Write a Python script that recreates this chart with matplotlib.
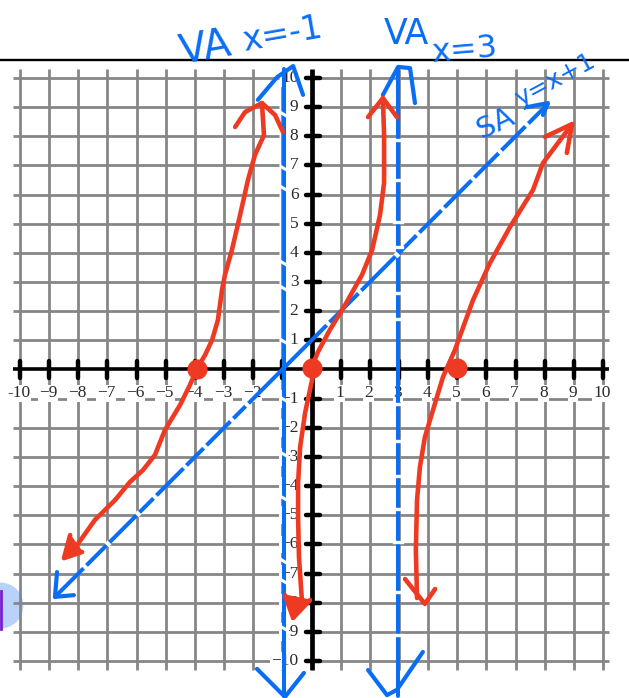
import numpy as np
import matplotlib
matplotlib.use("Agg")
import matplotlib.pyplot as plt

GRID = "#868686"
BLUE = "#0a6ef5"
RED = "#ee3a22"

x_ticks = [t for t in range(-10, 11) if t not in (-1, 0)]
y_ticks = [t for t in range(-10, 11) if t != 0]
tick_marks = [t for t in range(-10, 11) if t != 0]
grid_x = [t for t in range(-10, 11) if t != 0]
grid_y = [t for t in range(-10, 11) if t != 0]

# hand drawn curves, in graph units
red1_x = [-1.70, -1.63, -1.94, -2.18, -2.45, -2.73, -2.97, -3.07, -3.21, -3.41, -3.65, -3.93,
          -4.17, -4.51, -5.03, -5.37, -5.78, -6.23, -6.74, -7.43, -8.28]
red1_y = [9.14, 8.04, 7.36, 6.50, 5.30, 4.10, 3.24, 2.73, 1.70, 1.01, 0.50, 0.02,
          -0.53, -1.22, -2.08, -2.93, -3.45, -3.86, -4.48, -5.16, -6.36]
red2_x = [2.45, 2.49, 2.49, 2.35, 2.08, 1.73, 1.15, 0.63, 0.22, 0.02, 0.02,
          -0.22, -0.39, -0.46, -0.46, -0.43, -0.33, -0.63]
red2_y = [9.31, 8.04, 6.40, 5.30, 4.10, 3.24, 2.21, 1.36, 0.60, 0.09, -0.36,
          -1.49, -2.66, -3.89, -5.06, -6.43, -7.91, -8.52]
red3_x = [8.94, 7.94, 7.60, 6.81, 6.12, 5.54, 4.92, 4.51, 4.24, 3.89, 3.72, 3.62, 3.58, 3.62]
red3_y = [8.42, 7.08, 6.16, 4.89, 3.65, 2.38, 0.67, -0.26, -1.15, -2.32, -3.34, -4.48, -6.19, -7.84]

red_heads = [
    ([-2.62, -2.28, -1.70, -1.25, -0.98], [8.32, 8.83, 9.14, 8.73, 8.15]),
    ([-8.28, -8.49, -7.87], [-5.68, -6.47, -6.26]),
    ([1.94, 2.45, 2.93], [8.66, 9.31, 8.66]),
    ([-0.91, -0.63, -0.05], [-7.74, -8.52, -7.91]),
    ([8.01, 8.94, 8.76], [7.98, 8.42, 7.43]),
    ([3.21, 3.89, 4.24], [-7.19, -8.04, -7.53]),
]
filled_heads = [1, 3]

roots_x = [-3.92, 0.02, 5.0]
roots_y = [0.03, 0.05, 0.05]

va1_x = [-0.93, -0.93]
va1_y = [10.3, -11.2]
va2_x = [2.97, 2.97]
va2_y = [10.3, -11.2]
sa_x = [-8.8, 8.1]
sa_y = [-7.8, 9.1]

blue_heads = [
    ([-1.84, -1.18, -0.63, -0.29], [9.25, 10.03, 10.41, 9.42]),
    ([-1.87, -0.91, -0.26], [-10.27, -11.23, -10.41]),
    ([2.45, 2.97, 3.38, 3.55], [9.42, 10.38, 10.34, 9.14]),
    ([1.94, 2.59, 2.93, 3.82], [-10.31, -11.17, -10.99, -9.69]),
    ([7.39, 8.11, 7.94], [9.0, 9.14, 8.73]),
    ([-8.73, -8.80, -8.15], [-6.95, -7.80, -7.74]),
]

# where the dashes got rubbed out
va1_gaps = [8.80, 6.95, 6.26, 3.69, 2.83, 1.01, -0.98, -2.86, -4.37, -6.53, -7.22, -8.83]
va2_gaps = [7.87, 6.50, 5.06, 4.20, 2.62, 1.73, -1.18, -2.45, -3.65, -4.79, -5.92, -7.63, -9.11]
sa_gaps = [7.39, 6.47, 5.54, 4.51, 3.65, 2.93, 1.66, 0.57, -2.21, -2.73, -3.65, -4.34, -5.37, -5.95, -6.98, -7.77]

fig = plt.figure(figsize=(6.29, 6.98), dpi=100)
ax = fig.add_axes([0, 0, 1, 1])
sx = 29.15
ax.set_xlim(-311.5 / sx, (629 - 311.5) / sx)
ax.set_ylim((369.5 - 698) / sx, 369.5 / sx)
ax.axis("off")

# rule across the top of the page
ax.plot(ax.get_xlim(), [10.62, 10.62], color="black", lw=1.7, zorder=1)

for x in grid_x:
    ax.plot([x, x], [-10.3, 10.3], color=GRID, lw=2.0, solid_capstyle="butt", zorder=2)
for y in grid_y:
    ax.plot([-10.25, -1.1], [y, y], color=GRID, lw=2.0, solid_capstyle="butt", zorder=2)
    ax.plot([0, 10.2], [y, y], color=GRID, lw=2.0, solid_capstyle="butt", zorder=2)

ax.plot([-10.25, 10.2], [0, 0], color="black", lw=2.6, solid_capstyle="butt", zorder=3)
ax.plot([0, 0], [-10.3, 10.3], color="black", lw=3.4, solid_capstyle="butt", zorder=3)
for t in tick_marks:
    ax.plot([t, t], [-0.3, 0.3], color="black", lw=3.2, solid_capstyle="round", zorder=3)
    ax.plot([-0.2, 0.3], [t, t], color="black", lw=3.2, solid_capstyle="round", zorder=3)

box = dict(facecolor="white", edgecolor="none", pad=0.6)
for t in x_ticks:
    label = str(t).replace("-", "\u2212") if t != -10 else "-10"
    ax.text(t - 0.04, -0.82, label, family="Liberation Serif", fontsize=12.5, color="#2a2a2a",
            ha="center", va="center", bbox=box, zorder=4)
for t in y_ticks:
    label = str(t).replace("-", "\u2212")
    ax.text(-0.45, t, label, family="Liberation Serif", fontsize=12.5, color="#2a2a2a",
            ha="right", va="center", bbox=box, zorder=4)

# blue asymptotes
for xs, ys in [(va1_x, va1_y), (va2_x, va2_y), (sa_x, sa_y)]:
    ax.plot(xs, ys, color=BLUE, lw=2.9, solid_capstyle="round", zorder=5)
for y in va1_gaps:
    ax.plot([-1.03, -0.83], [y, y - 0.12], color="white", lw=2.2, zorder=6)
for y in va2_gaps:
    ax.plot([2.82, 3.12], [y, y], color="white", lw=2.4, zorder=6)
for x in sa_gaps:
    ax.plot([x - 0.05, x + 0.05], [x + 0.95, x + 1.05], color="white", lw=4.0, solid_capstyle="butt", zorder=6)
for xs, ys in blue_heads:
    ax.plot(xs, ys, color=BLUE, lw=3.0, solid_capstyle="round", solid_joinstyle="round", zorder=7)

# red curves
for xs, ys in [(red1_x, red1_y), (red2_x, red2_y), (red3_x, red3_y)]:
    ax.plot(xs, ys, color=RED, lw=3.3, solid_capstyle="round", solid_joinstyle="round", zorder=8)
for i, (xs, ys) in enumerate(red_heads):
    ax.plot(xs, ys, color=RED, lw=3.3, solid_capstyle="round", solid_joinstyle="round", zorder=8)
    if i in filled_heads:
        ax.fill(xs, ys, color=RED, zorder=8)
ax.plot(roots_x, roots_y, "o", color=RED, ms=14.5, mec="none", zorder=9)

# handwritten notes
ax.text(-3.65, 11.0, "VA", color=BLUE, fontsize=29, rotation=10, ha="center", va="center", zorder=10)
ax.text(-1.0, 11.5, "x=-1", color=BLUE, fontsize=24, rotation=10, ha="center", va="center", zorder=10)
ax.text(3.25, 11.5, "VA", color=BLUE, fontsize=25, ha="center", va="center", zorder=10)
ax.text(5.25, 10.95, "x=3", color=BLUE, fontsize=23, rotation=5, ha="center", va="center", zorder=10)
ax.text(6.3, 8.45, "SA", color=BLUE, fontsize=21, rotation=25, ha="center", va="center", zorder=10)
ax.text(8.35, 9.93, "y=x+1", color=BLUE, fontsize=18, rotation=28, ha="center", va="center", zorder=10)

# tool cursor at the left edge
ax.plot([-10.68], [-8.08], "o", color="#b8d2fa", ms=33, mec="none", zorder=1)
ax.plot([-10.66, -10.66], [-7.6, -8.9], color="#7a1fd0", lw=2.0, zorder=2)

fig.savefig("out.png", dpi=100)
